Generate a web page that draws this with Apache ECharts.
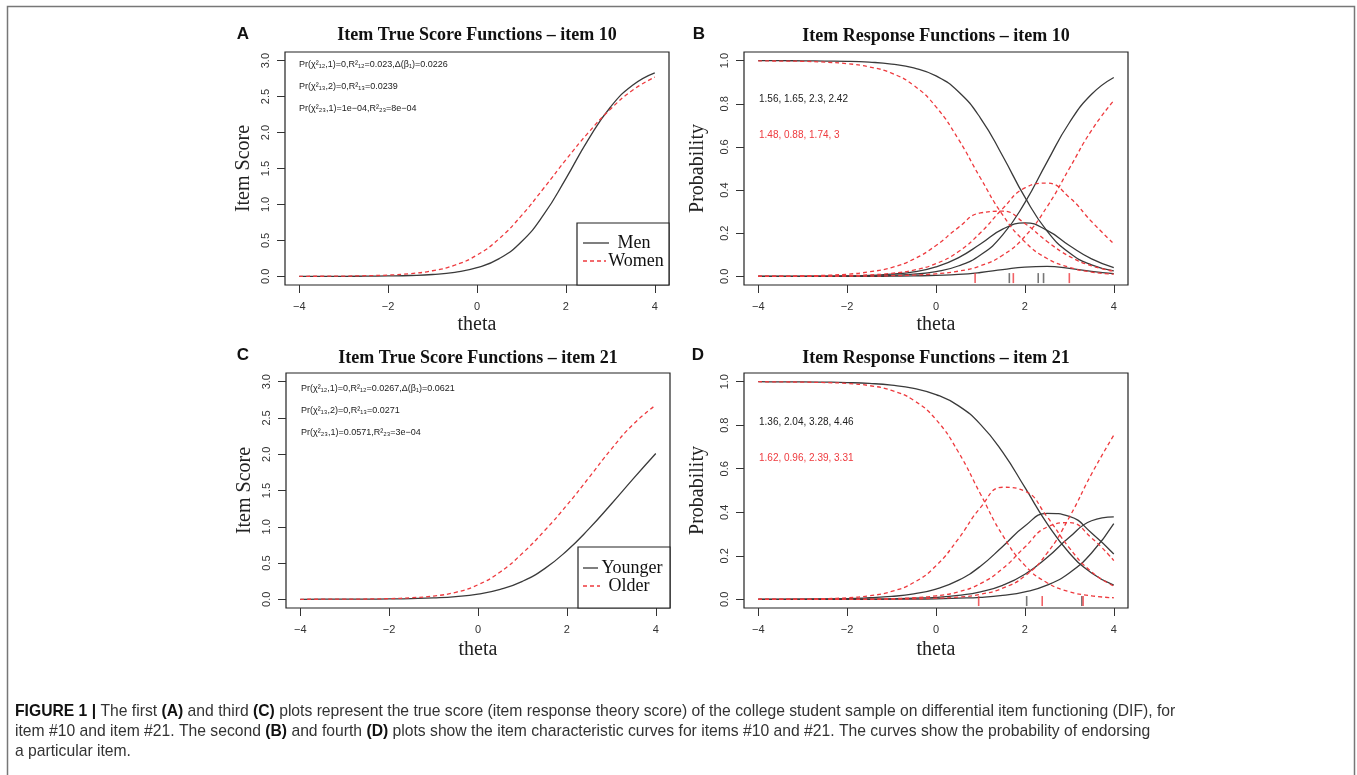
<!DOCTYPE html>
<html>
<head>
<meta charset="utf-8">
<script src="https://cdn.jsdelivr.net/npm/echarts@6/dist/echarts.min.js"></script>
<style>
  html, body { margin: 0; padding: 0; background: #fff; }
  #chart { width: 1357px; height: 775px; }
</style>
</head>
<body>
<div id="chart"></div>
<script>
// theta grid shared by every curve
const theta = [-4, -3.5, -3, -2.5, -2, -1.5, -1, -0.5, 0, 0.5, 1, 1.5, 2, 2.5, 3, 3.5, 4];

// item true score curves (A, C)
const scoreMen10 = [0.000, 0.001, 0.001, 0.003, 0.006, 0.012, 0.026, 0.057, 0.120, 0.247, 0.481, 0.857, 1.360, 1.899, 2.352, 2.658, 2.831];
const scoreWomen10 = [0.001, 0.002, 0.004, 0.009, 0.018, 0.038, 0.078, 0.156, 0.296, 0.525, 0.844, 1.225, 1.621, 1.995, 2.324, 2.588, 2.771];
const scoreYounger21 = [0.000, 0.001, 0.001, 0.002, 0.005, 0.010, 0.019, 0.037, 0.072, 0.137, 0.248, 0.423, 0.670, 0.974, 1.314, 1.667, 2.010];
const scoreOlder21 = [0.000, 0.001, 0.002, 0.004, 0.009, 0.021, 0.045, 0.097, 0.200, 0.377, 0.635, 0.948, 1.298, 1.680, 2.071, 2.418, 2.678];

// item response (category) curves (B, D), categories 0..3
const probMen10 = [
  [1.000, 1.000, 0.999, 0.998, 0.997, 0.993, 0.984, 0.966, 0.929, 0.857, 0.734, 0.558, 0.367, 0.210, 0.109, 0.053, 0.025],
  [0.000, 0.000, 0.000, 0.001, 0.002, 0.005, 0.010, 0.021, 0.044, 0.086, 0.150, 0.219, 0.248, 0.213, 0.143, 0.081, 0.041],
  [0.000, 0.000, 0.000, 0.000, 0.000, 0.000, 0.001, 0.002, 0.005, 0.009, 0.018, 0.031, 0.043, 0.046, 0.037, 0.023, 0.013],
  [0.000, 0.000, 0.000, 0.000, 0.001, 0.002, 0.005, 0.010, 0.022, 0.048, 0.099, 0.192, 0.342, 0.531, 0.712, 0.844, 0.922]
];
const probWomen10 = [
  [0.999, 0.998, 0.997, 0.993, 0.986, 0.971, 0.942, 0.885, 0.786, 0.637, 0.456, 0.285, 0.160, 0.083, 0.042, 0.020, 0.010],
  [0.001, 0.001, 0.002, 0.005, 0.010, 0.021, 0.041, 0.080, 0.143, 0.226, 0.294, 0.302, 0.245, 0.162, 0.093, 0.049, 0.024],
  [0.000, 0.000, 0.001, 0.002, 0.003, 0.007, 0.014, 0.029, 0.059, 0.114, 0.202, 0.314, 0.410, 0.432, 0.366, 0.254, 0.151],
  [0.000, 0.000, 0.000, 0.000, 0.001, 0.001, 0.003, 0.006, 0.012, 0.024, 0.049, 0.098, 0.185, 0.323, 0.500, 0.677, 0.815]
];
const probYounger21 = [
  [1.000, 0.999, 0.999, 0.998, 0.996, 0.992, 0.984, 0.969, 0.941, 0.890, 0.804, 0.676, 0.514, 0.348, 0.213, 0.121, 0.065],
  [0.000, 0.000, 0.001, 0.002, 0.003, 0.007, 0.013, 0.025, 0.047, 0.087, 0.152, 0.243, 0.337, 0.395, 0.381, 0.305, 0.208],
  [0.000, 0.000, 0.000, 0.000, 0.001, 0.001, 0.002, 0.005, 0.009, 0.018, 0.034, 0.064, 0.115, 0.192, 0.285, 0.361, 0.379],
  [0.000, 0.000, 0.000, 0.000, 0.000, 0.000, 0.001, 0.001, 0.002, 0.005, 0.009, 0.018, 0.034, 0.065, 0.121, 0.213, 0.348]
];
const probOlder21 = [
  [1.000, 0.999, 0.998, 0.996, 0.992, 0.982, 0.960, 0.914, 0.826, 0.678, 0.484, 0.294, 0.156, 0.076, 0.035, 0.016, 0.007],
  [0.000, 0.001, 0.001, 0.003, 0.007, 0.016, 0.036, 0.077, 0.154, 0.277, 0.421, 0.515, 0.497, 0.379, 0.236, 0.126, 0.061],
  [0.000, 0.000, 0.000, 0.000, 0.001, 0.001, 0.003, 0.007, 0.016, 0.034, 0.072, 0.141, 0.240, 0.332, 0.352, 0.282, 0.178],
  [0.000, 0.000, 0.000, 0.000, 0.000, 0.000, 0.001, 0.002, 0.005, 0.010, 0.023, 0.051, 0.107, 0.212, 0.377, 0.576, 0.754]
];

// slope + thresholds printed on B and D (thresholds also drawn as rug ticks)
const paramsMen10 = [1.56, 1.65, 2.3, 2.42];
const paramsWomen10 = [1.48, 0.88, 1.74, 3];
const paramsYounger21 = [1.36, 2.04, 3.28, 4.46];
const paramsOlder21 = [1.62, 0.96, 2.39, 3.31];

// DIF statistics printed on A and C
const statsItem10 = ['Pr(\u03c7\u00b2\u2081\u2082,1)=0,R\u00b2\u2081\u2082=0.023,\u0394(\u03b2\u2081)=0.0226', 'Pr(\u03c7\u00b2\u2081\u2083,2)=0,R\u00b2\u2081\u2083=0.0239', 'Pr(\u03c7\u00b2\u2082\u2083,1)=1e\u221204,R\u00b2\u2082\u2083=8e\u221204'];
const statsItem21 = ['Pr(\u03c7\u00b2\u2081\u2082,1)=0,R\u00b2\u2081\u2082=0.0267,\u0394(\u03b2\u2081)=0.0621', 'Pr(\u03c7\u00b2\u2081\u2083,2)=0,R\u00b2\u2081\u2083=0.0271', 'Pr(\u03c7\u00b2\u2082\u2083,1)=0.0571,R\u00b2\u2082\u2083=3e\u221204'];

// axis ticks
const xTicks = [-4, -2, 0, 2, 4];
const scoreTicks = [0, 0.5, 1, 1.5, 2, 2.5, 3];
const probTicks = [0, 0.2, 0.4, 0.6, 0.8, 1];

const BLACK = '#3a3a3a';
const RED = '#ee3a3e';
const SERIF = '"Liberation Serif", "Times New Roman", serif';
const SANS = '"Liberation Sans", Arial, sans-serif';

const grids = [
  { left: 285, top: 52, width: 384, height: 233 },
  { left: 744, top: 52, width: 384, height: 233 },
  { left: 286, top: 373, width: 384, height: 235 },
  { left: 744, top: 373, width: 384, height: 235 }
];

function fmtX(v) { return v < 0 ? '\u2212' + Math.abs(v) : String(v); }

function makeX(i, gap) {
  return {
    gridIndex: i, type: 'value', min: -4.32, max: 4.32,
    name: 'theta', nameLocation: 'middle', nameGap: gap,
    nameTextStyle: { fontFamily: SERIF, fontSize: 20, color: '#222' },
    axisLine: { show: false, onZero: false }, splitLine: { show: false },
    axisTick: { show: true, length: 8, customValues: xTicks, lineStyle: { color: '#333' } },
    axisLabel: { customValues: xTicks, formatter: fmtX, margin: 16, fontSize: 11, color: '#333', fontFamily: SANS }
  };
}

function makeY(i, isScore, gap) {
  const ticks = isScore ? scoreTicks : probTicks;
  return {
    gridIndex: i, type: 'value',
    min: isScore ? -0.12 : -0.04, max: isScore ? 3.12 : 1.04,
    name: isScore ? 'Item Score' : 'Probability', nameLocation: 'middle', nameGap: gap,
    nameTextStyle: { fontFamily: SERIF, fontSize: 20, color: '#222' },
    axisLine: { show: false, onZero: false }, splitLine: { show: false },
    axisTick: { show: true, length: 8, customValues: ticks, lineStyle: { color: '#333' } },
    axisLabel: { customValues: ticks, formatter: v => v.toFixed(1), rotate: 90, margin: 14, fontSize: 11, color: '#333', fontFamily: SANS }
  };
}

function curve(i, vals, red) {
  return {
    type: 'line', xAxisIndex: i, yAxisIndex: i, silent: true,
    data: theta.map((t, k) => [t, vals[k]]),
    showSymbol: false, smooth: true, z: red ? 3 : 2,
    lineStyle: { color: red ? RED : BLACK, width: 1.3, type: red ? [4, 3] : 'solid' }
  };
}

function rug(i, params, color) {
  return {
    type: 'scatter', xAxisIndex: i, yAxisIndex: i, silent: true, z: 4,
    symbol: 'rect', symbolSize: [1.6, 10],
    data: params.slice(1).filter(b => b >= -4.32 && b <= 4.32).map(b => [b, -0.008]),
    itemStyle: { color: color }
  };
}

const series = [
  curve(0, scoreMen10, false), curve(0, scoreWomen10, true),
  curve(2, scoreYounger21, false), curve(2, scoreOlder21, true)
];
probMen10.forEach(p => series.push(curve(1, p, false)));
probWomen10.forEach(p => series.push(curve(1, p, true)));
probYounger21.forEach(p => series.push(curve(3, p, false)));
probOlder21.forEach(p => series.push(curve(3, p, true)));
series.push(rug(1, paramsMen10, '#555'), rug(1, paramsWomen10, RED));
series.push(rug(3, paramsYounger21, '#555'), rug(3, paramsOlder21, RED));

function txt(x, y, text, font, fill, align) {
  return { type: 'text', x: x, y: y, z: 10, style: { text: text, font: font, fill: fill || '#222', align: align || 'left', verticalAlign: 'middle' } };
}

const graphics = [
  // outer frame
  { type: 'rect', shape: { x: 7.5, y: 6.5, width: 1347, height: 800 }, style: { fill: 'none', stroke: '#777', lineWidth: 1.5 }, z: 1 },
  // panel letters
  txt(243, 34, 'A', 'bold 17px ' + SANS, '#111', 'center'),
  txt(699, 34, 'B', 'bold 17px ' + SANS, '#111', 'center'),
  txt(243, 355, 'C', 'bold 17px ' + SANS, '#111', 'center'),
  txt(698, 355, 'D', 'bold 17px ' + SANS, '#111', 'center'),
  // panel titles
  txt(477, 35, 'Item True Score Functions \u2013 item 10', 'bold 18px ' + SERIF, '#111', 'center'),
  txt(936, 36, 'Item Response Functions \u2013 item 10', 'bold 18px ' + SERIF, '#111', 'center'),
  txt(478, 358, 'Item True Score Functions \u2013 item 21', 'bold 18px ' + SERIF, '#111', 'center'),
  txt(936, 358, 'Item Response Functions \u2013 item 21', 'bold 18px ' + SERIF, '#111', 'center'),
  // DIF stats
  txt(299, 65, statsItem10[0], '9px ' + SANS, '#222'),
  txt(299, 87, statsItem10[1], '9px ' + SANS, '#222'),
  txt(299, 109, statsItem10[2], '9px ' + SANS, '#222'),
  txt(301, 389, statsItem21[0], '9px ' + SANS, '#222'),
  txt(301, 411, statsItem21[1], '9px ' + SANS, '#222'),
  txt(301, 433, statsItem21[2], '9px ' + SANS, '#222'),
  // parameter labels
  txt(759, 99, paramsMen10.join(', '), '10px ' + SANS, '#222'),
  txt(759, 135, paramsWomen10.join(', '), '10px ' + SANS, RED),
  txt(759, 422, paramsYounger21.join(', '), '10px ' + SANS, '#222'),
  txt(759, 458, paramsOlder21.join(', '), '10px ' + SANS, RED),
  // legend A
  { type: 'rect', shape: { x: 577, y: 223, width: 92, height: 62 }, style: { fill: '#fff', stroke: '#222', lineWidth: 1.2 }, z: 8 },
  { type: 'line', shape: { x1: 583, y1: 243, x2: 609, y2: 243 }, style: { stroke: BLACK, lineWidth: 1.3 }, z: 9 },
  txt(634, 243, 'Men', '18px ' + SERIF, '#111', 'center'),
  { type: 'line', shape: { x1: 583, y1: 261, x2: 606, y2: 261 }, style: { stroke: RED, lineWidth: 1.3, lineDash: [4, 3] }, z: 9 },
  txt(636, 261, 'Women', '18px ' + SERIF, '#111', 'center'),
  // legend C
  { type: 'rect', shape: { x: 578, y: 547, width: 92, height: 61 }, style: { fill: '#fff', stroke: '#222', lineWidth: 1.2 }, z: 8 },
  { type: 'line', shape: { x1: 583, y1: 568, x2: 598, y2: 568 }, style: { stroke: BLACK, lineWidth: 1.3 }, z: 9 },
  txt(632, 568, 'Younger', '18px ' + SERIF, '#111', 'center'),
  { type: 'line', shape: { x1: 583, y1: 586, x2: 600, y2: 586 }, style: { stroke: RED, lineWidth: 1.3, lineDash: [4, 3] }, z: 9 },
  txt(629, 586, 'Older', '18px ' + SERIF, '#111', 'center'),
  // caption
  {
    type: 'text', x: 15, y: 702, z: 10,
    style: {
      text: '{b|FIGURE 1 |} The first {b|(A)} and third {b|(C)} plots represent the true score (item response theory score) of the college student sample on differential item functioning (DIF), for\n' +
            'item #10 and item #21. The second {b|(B)} and fourth {b|(D)} plots show the item characteristic curves for items #10 and #21. The curves show the probability of endorsing\n' +
            'a particular item.',
      font: '15.7px ' + SANS, fill: '#333', lineHeight: 20, verticalAlign: 'top',
      rich: { b: { fontWeight: 'bold', fontSize: 15.7, fontFamily: SANS, fill: '#111', lineHeight: 20 } }
    }
  }
];

const chart = echarts.init(document.getElementById('chart'));
chart.setOption({
  animation: false,
  backgroundColor: '#fff',
  grid: grids.map(g => Object.assign({ show: true, borderColor: '#222', borderWidth: 1.2, backgroundColor: 'transparent' }, g)),
  xAxis: [makeX(0, 30), makeX(1, 30), makeX(2, 32), makeX(3, 32)],
  yAxis: [makeY(0, true, 31), makeY(1, false, 36), makeY(2, true, 31), makeY(3, false, 36)],
  series: series,
  graphic: graphics
});
</script>
</body>
</html>
